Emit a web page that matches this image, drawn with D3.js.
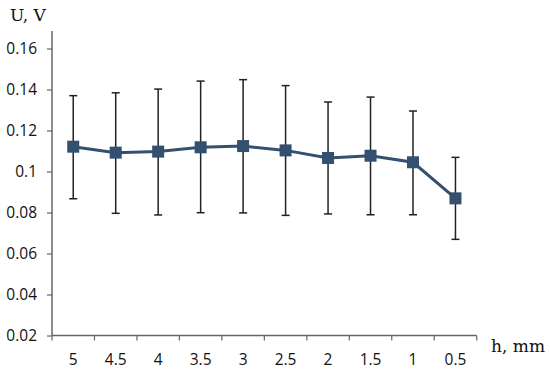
<!DOCTYPE html>
<html><head><meta charset="utf-8">
<script src="https://cdn.jsdelivr.net/npm/d3@7"></script>
<style>body{margin:0;background:#fff}svg{display:block}</style>
</head><body>
<script>
const categories = ["5","4.5","4","3.5","3","2.5","2","1.5","1","0.5"];
const values = [0.1121,0.1092,0.1097,0.1118,0.1124,0.1103,0.1066,0.1077,0.1045,0.0869];
const errHigh = [0.1370,0.1384,0.1402,0.1441,0.1448,0.1419,0.1339,0.1363,0.1295,0.1069];
const errLow = [0.0867,0.0796,0.0788,0.0799,0.0798,0.0786,0.0793,0.0789,0.0789,0.0669];
const yTicks = [0.02,0.04,0.06,0.08,0.1,0.12,0.14,0.16];

const W=550,H=370;
const svg=d3.select("body").append("svg").attr("width",W).attr("height",H);
const left=52,right=476.7,top0=31,bottom=335.5;
const x=d3.scaleBand().domain(categories).range([left,right]);
const y=d3.scaleLinear().domain([0.02,0.16]).range([bottom,48.5]);
const axisColor="#666";
const tickFont="'Open Sans', 'Noto Sans', sans-serif";
const titleFont="'DejaVu Serif', 'Liberation Serif', serif";

// y axis
const ya=svg.append("g").attr("transform",`translate(${left},0)`)
  .call(d3.axisLeft(y).tickValues(yTicks).tickFormat(d=>d3.format("")(+d.toFixed(2))).tickSize(5).tickPadding(10));
ya.select(".domain").remove();
ya.append("line").attr("x1",0).attr("x2",0).attr("y1",top0).attr("y2",bottom).attr("stroke",axisColor).attr("stroke-width",1.5);
ya.selectAll(".tick line").attr("stroke",axisColor).attr("stroke-width",1.2);
ya.selectAll(".tick text").attr("font-family",tickFont).attr("font-size",15.5).attr("fill","#111");

// x axis
const xa=svg.append("g").attr("transform",`translate(0,${bottom})`);
xa.append("line").attr("x1",left).attr("x2",right).attr("y1",0).attr("y2",0).attr("stroke",axisColor).attr("stroke-width",1.5);
const bounds=categories.map(c=>x(c)).concat([right]);
xa.selectAll("line.t").data(bounds).enter().append("line").attr("class","t")
  .attr("x1",d=>d).attr("x2",d=>d).attr("y1",0).attr("y2",5).attr("stroke",axisColor).attr("stroke-width",1.2);
xa.selectAll("text").data(categories).enter().append("text")
  .attr("x",d=>x(d)+x.bandwidth()/2).attr("y",29).attr("text-anchor","middle")
  .attr("font-family",tickFont).attr("font-size",15.5).attr("fill","#111").text(d=>d);

// titles
svg.append("text").attr("x",10).attr("y",21).attr("font-family",titleFont).attr("font-size",17).attr("fill","#111").text("U, V");
svg.append("text").attr("x",491).attr("y",352).attr("font-family",titleFont).attr("font-size",17).attr("fill","#111").text("h, mm");

const cx=i=>x(categories[i])+x.bandwidth()/2;
const data=categories.map((c,i)=>({i,v:values[i],hi:errHigh[i],lo:errLow[i]}));

// error bars
const eb=svg.append("g").attr("stroke","#222").attr("stroke-width",1.5);
data.forEach(d=>{
  eb.append("line").attr("x1",cx(d.i)).attr("x2",cx(d.i)).attr("y1",y(d.hi)).attr("y2",y(d.lo));
  eb.append("line").attr("x1",cx(d.i)-4).attr("x2",cx(d.i)+4).attr("y1",y(d.hi)).attr("y2",y(d.hi));
  eb.append("line").attr("x1",cx(d.i)-4).attr("x2",cx(d.i)+4).attr("y1",y(d.lo)).attr("y2",y(d.lo));
});

const color="#34506f";
svg.append("path").datum(data).attr("fill","none").attr("stroke",color).attr("stroke-width",3)
  .attr("d",d3.line().x(d=>cx(d.i)).y(d=>y(d.v)));
svg.selectAll("rect.m").data(data).enter().append("rect").attr("class","m")
  .attr("x",d=>cx(d.i)-6).attr("y",d=>y(d.v)-6).attr("width",12).attr("height",12).attr("fill",color);
</script>
</body></html>
